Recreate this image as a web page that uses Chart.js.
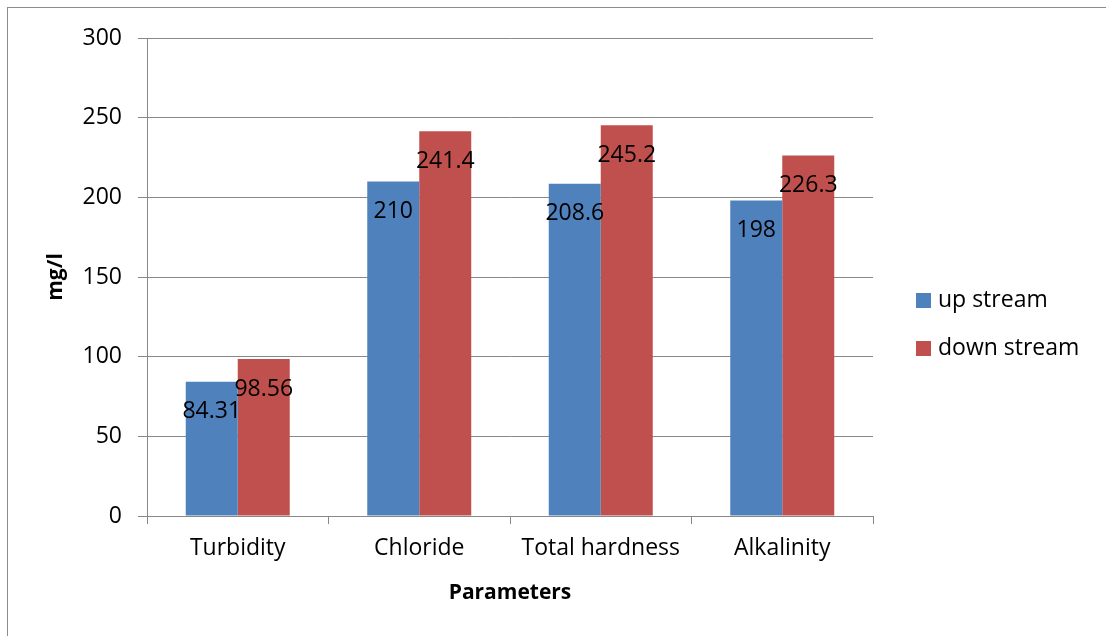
<!DOCTYPE html>
<html>
<head>
<meta charset="utf-8">
<script src="https://cdn.jsdelivr.net/npm/chart.js@4"></script>
<style>
  html, body { margin: 0; padding: 0; background: #fff; }
  #wrap { position: relative; width: 1106px; height: 636px; }
</style>
</head>
<body>
<div id="wrap"><canvas id="c" width="1106" height="636"></canvas></div>
<script>
// Water quality parameters, upstream vs downstream (mg/l)
const categories = ['Turbidity', 'Chloride', 'Total hardness', 'Alkalinity'];
const upStream = [84.31, 210, 208.6, 198];
const downStream = [98.56, 241.4, 245.2, 226.3];
const seriesNames = ['up stream', 'down stream'];
const seriesColors = ['#4F81BD', '#C0504D'];
const yTicks = [0, 50, 100, 150, 200, 250, 300];

const FONT = '"Open Sans", "Noto Sans", sans-serif';
const GRID = '#888888';

// Frame around the whole chart
const framePlugin = {
  id: 'frame',
  beforeDraw(chart) {
    const ctx = chart.ctx;
    ctx.save();
    ctx.fillStyle = '#ffffff';
    ctx.fillRect(0, 0, chart.width, chart.height);
    ctx.strokeStyle = '#8c8c8c';
    ctx.lineWidth = 1;
    ctx.strokeRect(7.5, 7.5, chart.width + 20, chart.height + 20);
    ctx.restore();
  }
};

// Value labels drawn just inside the top of each bar
const valueLabels = {
  id: 'valueLabels',
  afterDatasetsDraw(chart) {
    const ctx = chart.ctx;
    ctx.save();
    ctx.font = '23px ' + FONT;
    ctx.fillStyle = '#000000';
    ctx.textAlign = 'center';
    ctx.textBaseline = 'middle';
    chart.data.datasets.forEach((ds, i) => {
      chart.getDatasetMeta(i).data.forEach((bar, j) => {
        ctx.fillText(String(ds.data[j]), bar.x, bar.y + 30);
      });
    });
    ctx.restore();
  }
};

// Legend on the right, one entry per series
const sideLegend = {
  id: 'sideLegend',
  afterDraw(chart) {
    const ctx = chart.ctx;
    ctx.save();
    ctx.font = '23px ' + FONT;
    ctx.textAlign = 'left';
    ctx.textBaseline = 'middle';
    chart.data.datasets.forEach((ds, i) => {
      const cy = 300 + i * 48;
      ctx.fillStyle = ds.backgroundColor;
      ctx.fillRect(916, cy - 7, 15, 15);
      ctx.fillStyle = '#000000';
      ctx.fillText(ds.label, 938, cy);
    });
    ctx.restore();
  }
};

new Chart(document.getElementById('c'), {
  type: 'bar',
  data: {
    labels: categories,
    datasets: [
      { label: seriesNames[0], data: upStream, backgroundColor: seriesColors[0] },
      { label: seriesNames[1], data: downStream, backgroundColor: seriesColors[1] }
    ]
  },
  options: {
    responsive: false,
    animation: false,
    devicePixelRatio: 1,
    layout: { padding: { left: 0, top: 38, right: 233, bottom: 0 } },
    datasets: { bar: { categoryPercentage: 0.573, barPercentage: 1.0 } },
    plugins: {
      legend: { display: false },
      tooltip: { enabled: false }
    },
    scales: {
      x: {
        grid: { drawOnChartArea: false, tickLength: 8, color: GRID, offset: true },
        border: { color: GRID, width: 1 },
        ticks: { color: '#000', font: { family: FONT, size: 23 }, padding: 11, maxRotation: 0 },
        title: {
          display: true, text: 'Parameters', color: '#000',
          font: { family: FONT, size: 21, weight: 'bold' },
          padding: { top: 0, bottom: 30 }
        },
        afterFit(scale) { scale.height = 120; }
      },
      y: {
        min: 0, max: 300,
        afterBuildTicks(scale) { scale.ticks = yTicks.map(v => ({ value: v })); },
        grid: { color: GRID, tickLength: 9 },
        border: { color: GRID, width: 1 },
        ticks: { color: '#000', font: { family: FONT, size: 23 }, padding: 16 },
        title: {
          display: true, text: 'mg/l', color: '#000',
          font: { family: FONT, size: 21, weight: 'bold' },
          padding: { top: 43, bottom: 0 }
        },
        afterFit(scale) { scale.width = 147; }
      }
    }
  },
  plugins: [framePlugin, valueLabels, sideLegend]
});
</script>
</body>
</html>
